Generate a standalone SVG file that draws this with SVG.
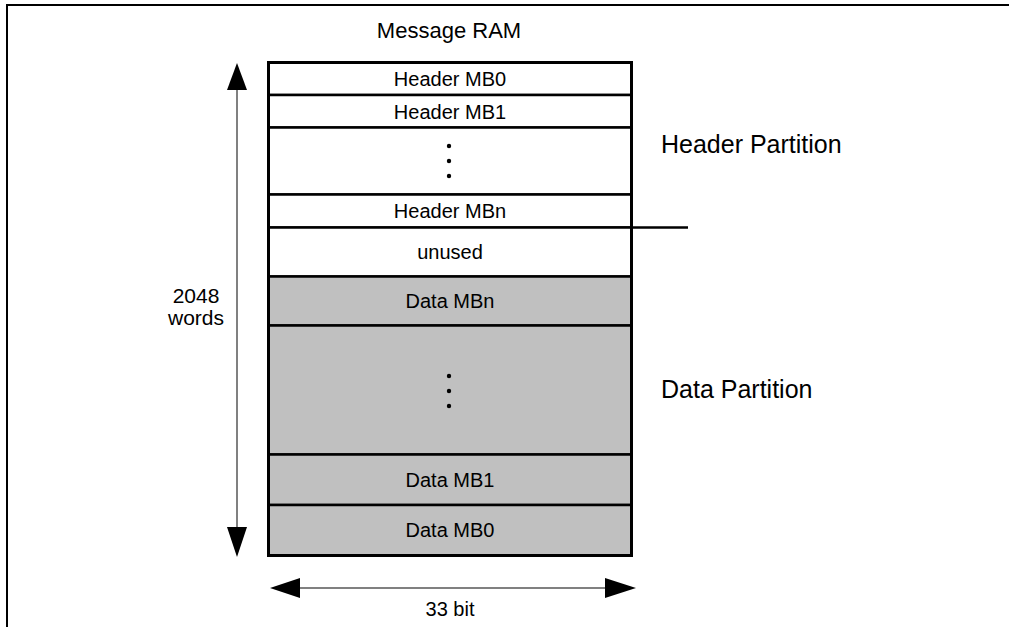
<svg xmlns="http://www.w3.org/2000/svg" width="1009" height="627" viewBox="0 0 1009 627">
<style>
  text { font-family: "Liberation Sans", Arial, sans-serif; fill: #000; }
  .row { font-size: 20px; text-anchor: middle; }
  .part { font-size: 25px; }
  .white { fill: #ffffff; stroke: #000; stroke-width: 2.5; }
  .gray { fill: #c0c0c0; stroke: #000; stroke-width: 2.5; }
  .shaft { stroke: #808080; stroke-width: 2; fill: none; }
  .head { fill: #000; }
  .frame { stroke: #000; stroke-width: 2; fill: none; }
</style>
<rect width="1009" height="627" fill="#ffffff"/>
<path class="frame" d="M7,627 V5 H1009"/>
<text x="449" y="38" font-size="22" text-anchor="middle">Message RAM</text>

<g id="header-mb0"><rect class="white" x="268.5" y="62.5" width="363" height="32.5"/><text class="row" x="450" y="86">Header MB0</text></g>
<g id="header-mb1"><rect class="white" x="268.5" y="95" width="363" height="32.5"/><text class="row" x="450" y="118.5">Header MB1</text></g>
<g id="header-dots"><rect class="white" x="268.5" y="127.5" width="363" height="67"/><circle cx="449" cy="146" r="2.2"/><circle cx="449" cy="161" r="2.2"/><circle cx="449" cy="176" r="2.2"/></g>
<g id="header-mbn"><rect class="white" x="268.5" y="194.5" width="363" height="33"/><text class="row" x="450" y="218">Header MBn</text></g>
<g id="unused"><rect class="white" x="268.5" y="227.5" width="363" height="49"/><text class="row" x="450" y="259">unused</text></g>
<g id="data-mbn"><rect class="gray" x="268.5" y="276.5" width="363" height="49"/><text class="row" x="450" y="308">Data MBn</text></g>
<g id="data-dots"><rect class="gray" x="268.5" y="325.5" width="363" height="129"/><circle cx="449" cy="376" r="2.2"/><circle cx="449" cy="391" r="2.2"/><circle cx="449" cy="406" r="2.2"/></g>
<g id="data-mb1"><rect class="gray" x="268.5" y="454.5" width="363" height="50.5"/><text class="row" x="450" y="487">Data MB1</text></g>
<g id="data-mb0"><rect class="gray" x="268.5" y="505" width="363" height="50.5"/><text class="row" x="450" y="537">Data MB0</text></g>
<rect x="268.5" y="62.5" width="363" height="493" fill="none" stroke="#000" stroke-width="3"/>

<g id="connectors">
  <line x1="630" y1="227.5" x2="688" y2="227.5" stroke="#000" stroke-width="2.5"/>
  <line class="shaft" x1="237" y1="88" x2="237" y2="529"/>
  <polygon class="head" points="237,63 227,90 247,90"/>
  <polygon class="head" points="237,557 227,527 247,527"/>
  <line class="shaft" x1="298" y1="588" x2="607" y2="588"/>
  <polygon class="head" points="270,588 300,578 300,598"/>
  <polygon class="head" points="636,588 605,578 605,598"/>
</g>

<g id="labels">
  <text x="196" y="303" font-size="21" text-anchor="middle">2048</text>
  <text x="196" y="325" font-size="21" text-anchor="middle">words</text>
  <text class="part" x="661" y="153">Header Partition</text>
  <text class="part" x="661" y="398">Data Partition</text>
  <text x="450" y="616" font-size="20" text-anchor="middle">33 bit</text>
</g>
</svg>
